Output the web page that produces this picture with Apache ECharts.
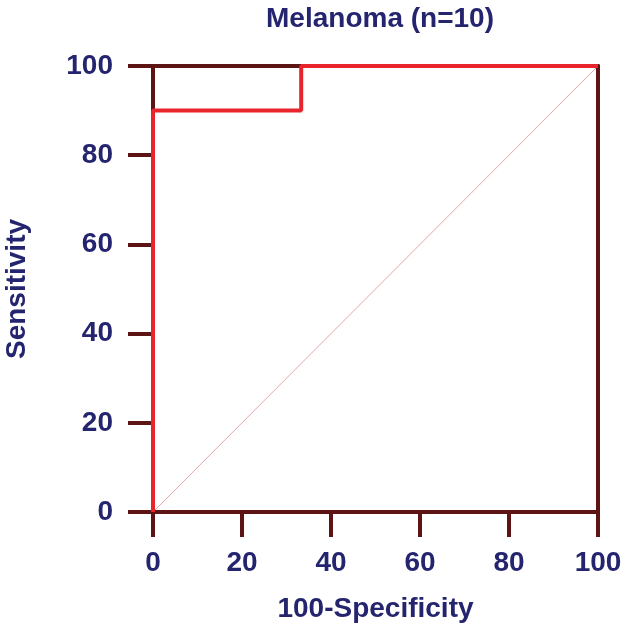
<!DOCTYPE html>
<html><head><meta charset="utf-8">
<script src="https://cdn.jsdelivr.net/npm/echarts@6/dist/echarts.min.js"></script>
<style>html,body{margin:0;padding:0;background:#fff}#c{width:625px;height:628px}</style>
</head><body><div id="c"></div>
<script>
const rocX = [0, 0, 33.3, 33.3, 100];
const rocY = [0, 90, 90, 100, 100];
const diagX = [0, 100];
const diagY = [0, 100];
const xTicks = [0, 20, 40, 60, 80, 100];
const yTicks = [0, 20, 40, 60, 80, 100];

const navy = '#25256f';
const dark = '#5c1414';
const red = '#e8252d';
const font = 'Liberation Sans';

const chart = echarts.init(document.getElementById('c'));
chart.setOption({
  animation: false,
  title: {text: 'Melanoma (n=10)', left: 375, top: 0, textAlign: 'center',
    textStyle: {color: navy, fontFamily: font, fontWeight: 'bold', fontSize: 28}},
  grid: {left: 153, right: 27, top: 66, bottom: 116, outerBoundsMode: 'none', containLabel: false},
  xAxis: [{
    type: 'value', min: 0, max: 100, interval: 20,
    name: '100-Specificity', nameLocation: 'middle', nameGap: 83,
    nameTextStyle: {color: navy, fontFamily: font, fontWeight: 'bold', fontSize: 28},
    axisLine: {onZero: false, lineStyle: {color: dark, width: 4}},
    axisTick: {length: 25, lineStyle: {color: dark, width: 4}},
    axisLabel: {margin: 37, color: navy, fontFamily: font, fontWeight: 'bold', fontSize: 28,
      formatter: v => xTicks.includes(v) ? String(v) : ''},
    splitLine: {show: false}
  }, {
    type: 'value', position: 'top', min: 0, max: 100,
    axisLine: {onZero: false, lineStyle: {color: dark, width: 4}},
    axisTick: {show: false}, axisLabel: {show: false}, splitLine: {show: false}
  }],
  yAxis: [{
    type: 'value', min: 0, max: 100, interval: 20,
    name: 'Sensitivity', nameLocation: 'middle', nameGap: 122, nameRotate: 90,
    nameTextStyle: {color: navy, fontFamily: font, fontWeight: 'bold', fontSize: 28},
    axisLine: {onZero: false, lineStyle: {color: dark, width: 4}},
    axisTick: {length: 25, lineStyle: {color: dark, width: 4}},
    axisLabel: {margin: 40, color: navy, fontFamily: font, fontWeight: 'bold', fontSize: 28,
      formatter: v => yTicks.includes(v) ? String(v) : ''},
    splitLine: {show: false}
  }, {
    type: 'value', position: 'right', min: 0, max: 100,
    axisLine: {onZero: false, lineStyle: {color: dark, width: 4}},
    axisTick: {show: false}, axisLabel: {show: false}, splitLine: {show: false}
  }],
  series: [{
    type: 'line', data: diagX.map((x, i) => [x, diagY[i]]), symbol: 'none',
    lineStyle: {color: '#e2a6a8', width: 1}, z: 3
  }, {
    type: 'line', data: rocX.map((x, i) => [x, rocY[i]]), symbol: 'none',
    lineStyle: {color: red, width: 4}, z: 4
  }]
});
</script></body></html>
